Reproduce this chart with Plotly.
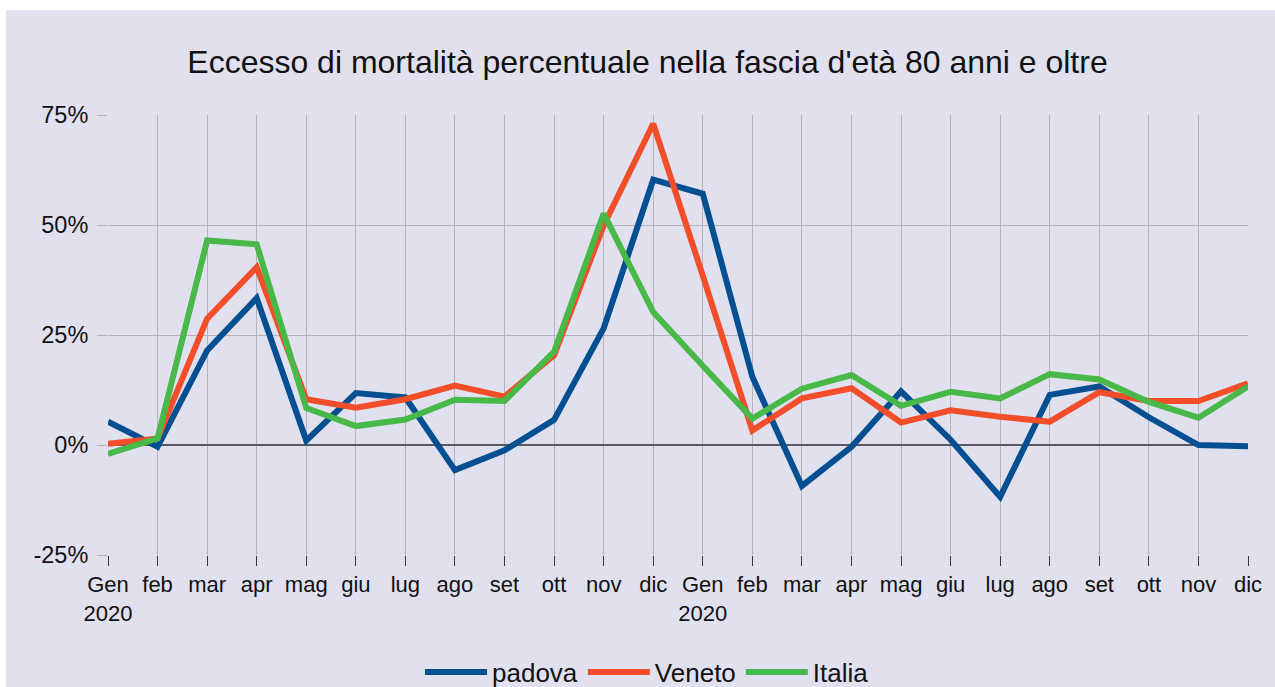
import plotly.graph_objects as go

months = ["Gen<br>2020", "feb", "mar", "apr", "mag", "giu", "lug", "ago", "set", "ott", "nov", "dic",
          "Gen<br>2020", "feb", "mar", "apr", "mag", "giu", "lug", "ago", "set", "ott", "nov", "dic"]
padova = [5.3, -0.4, 21.5, 33.4, 1.0, 11.8, 10.8, -5.7, -1.2, 5.7, 26.5, 60.3,
          57.1, 15.5, -9.3, -0.4, 12.2, 1.2, -11.8, 11.4, 13.3, 6.3, 0.0, -0.3]
veneto = [0.3, 1.5, 28.7, 40.4, 10.4, 8.5, 10.4, 13.5, 11.0, 20.4, 49.9, 73.0,
          38.5, 3.3, 10.6, 12.9, 5.1, 7.9, 6.4, 5.3, 12.0, 10.0, 10.0, 14.0]
italia = [-2.0, 1.5, 46.5, 45.6, 8.4, 4.3, 5.8, 10.3, 10.0, 21.2, 52.6, 30.2,
          18.0, 6.0, 12.8, 15.9, 8.9, 12.1, 10.6, 16.1, 14.9, 9.8, 6.2, 13.3]
y_ticks = [-25, 0, 25, 50, 75]
y_ticklabels = ["-25%", "0%", "25%", "50%", "75%"]

x = list(range(len(months)))
BG = "#e1e0ef"
FONT = "Liberation Sans, Arial, sans-serif"

fig = go.Figure()
for name, vals, col in [("padova", padova, "#034f91"),
                        ("Veneto", veneto, "#f34e2a"),
                        ("Italia", italia, "#48b848")]:
    fig.add_trace(go.Scatter(x=x, y=vals, name=name, mode="lines",
                             line=dict(color=col, width=6)))

L, R, T, B = 108, 27, 115, 132
W, H = 1275, 687
pw, ph = W - L - R, H - T - B

fig.update_layout(
    width=W, height=H,
    margin=dict(l=L, r=R, t=T, b=B, autoexpand=False),
    paper_bgcolor=BG, plot_bgcolor=BG,
    font=dict(family=FONT, color="#111111"),
    title=dict(text="Eccesso di mortalità percentuale nella fascia d'età 80 anni e oltre",
               font=dict(size=32, family=FONT, color="#111111"),
               x=(647.5 - L) / pw, xref="paper", xanchor="center",
               y=1 - 62 / H, yref="container", yanchor="middle"),
    xaxis=dict(range=[0, len(months) - 1], tickmode="array", tickvals=x, ticktext=months,
               showgrid=True, gridcolor="#b4b4b8", gridwidth=1,
               ticks="outside", ticklen=10, tickcolor="#333333", tickwidth=1,
               tickfont=dict(size=22, family=FONT, color="#111111"),
               showline=False, zeroline=False, fixedrange=True, automargin=False),
    yaxis=dict(range=[-25, 75], tickmode="array", tickvals=y_ticks, ticktext=y_ticklabels,
               showgrid=True, gridcolor="#b4b4b8", gridwidth=1,
               ticks="outside", ticklen=10, tickcolor="#b4b4b8", tickwidth=1,
               ticklabelstandoff=4,
               tickfont=dict(size=23.5, family=FONT, color="#111111"),
               zeroline=True, zerolinecolor="#5a5a5e", zerolinewidth=2,
               showline=False, fixedrange=True, automargin=False),
    legend=dict(orientation="h", x=(647 - L) / pw, xanchor="center",
                y=(ph - (672 - T)) / ph, yanchor="middle",
                font=dict(size=26, family=FONT, color="#111111"),
                bgcolor="rgba(0,0,0,0)", itemwidth=62, tracegroupgap=0),
    showlegend=True,
)

# white strips at top and left edges of the picture
fig.add_shape(type="rect", xref="paper", yref="paper", layer="below",
              x0=-L / pw - 0.01, x1=(W - L) / pw + 0.01, y0=(ph + T - 10) / ph, y1=(ph + T) / ph + 0.01,
              fillcolor="white", line=dict(width=0))
fig.add_shape(type="rect", xref="paper", yref="paper", layer="below",
              x0=-L / pw - 0.01, x1=(6 - L) / pw, y0=-B / ph - 0.01, y1=(ph + T) / ph + 0.01,
              fillcolor="white", line=dict(width=0))

fig.write_html("out.html", config={"displayModeBar": False},
               post_script="document.body.style.margin='0';document.body.style.overflow='hidden';")
